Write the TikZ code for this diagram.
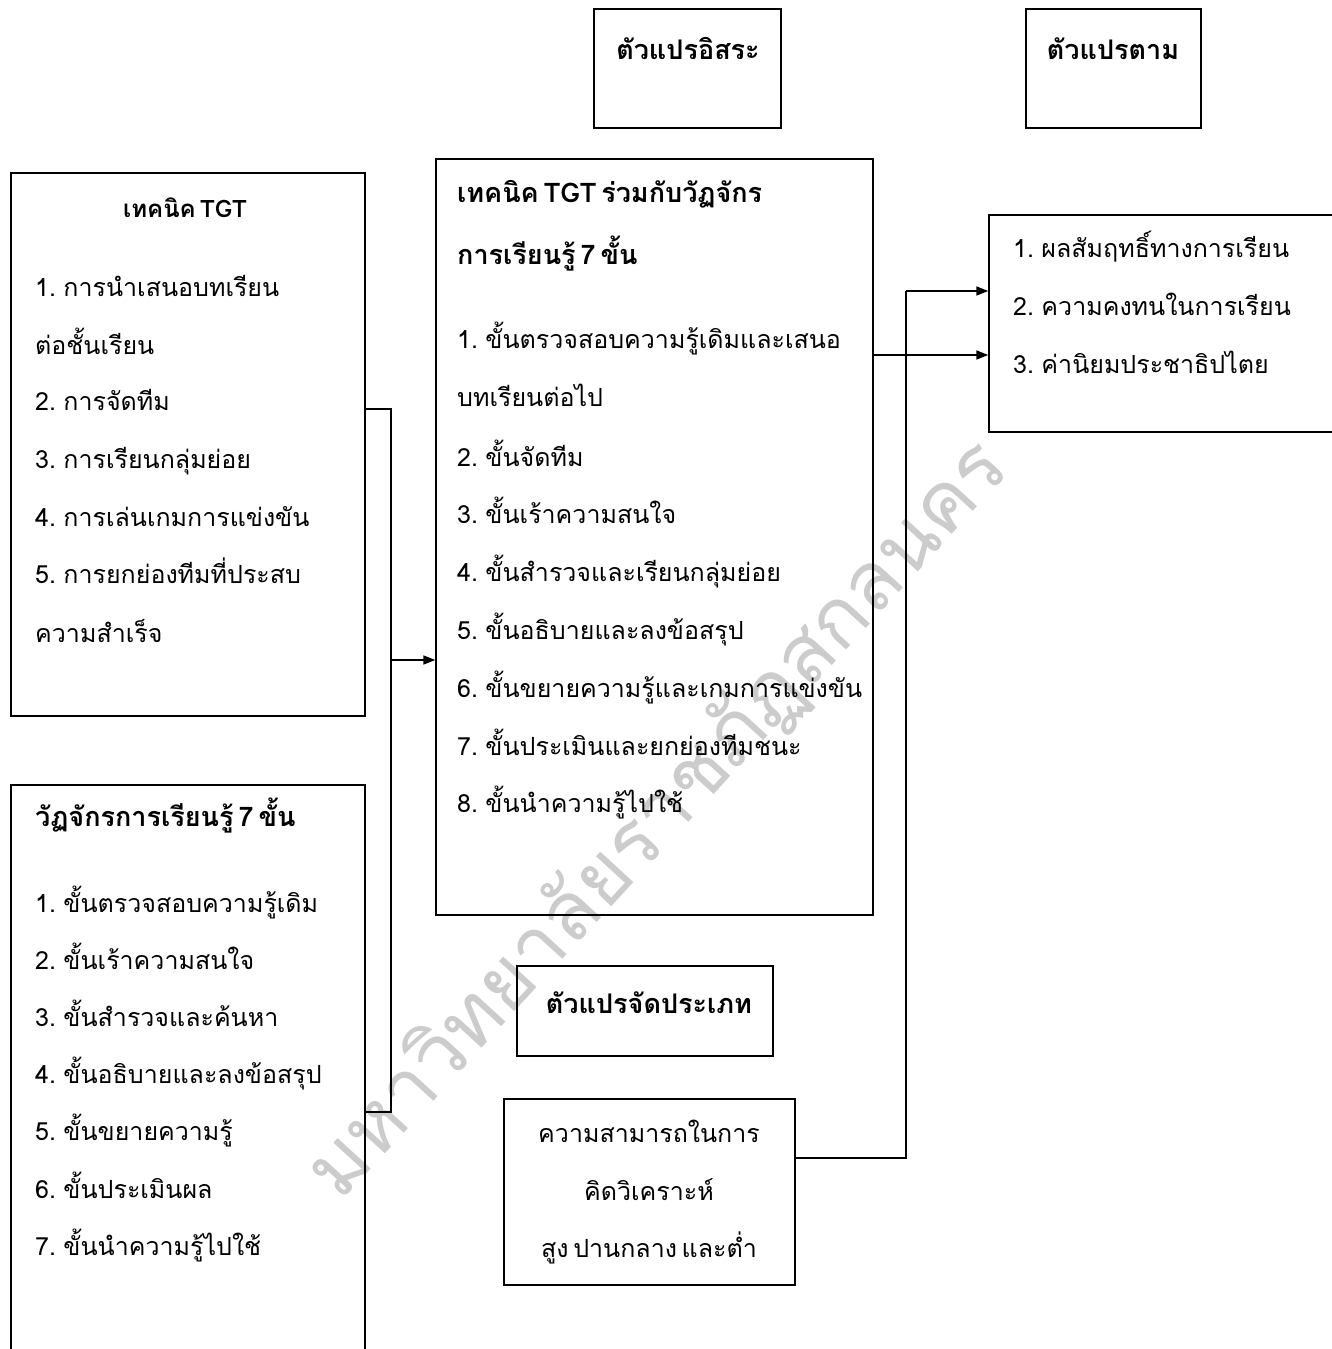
\documentclass[tikz,border=0pt]{standalone}
\usepackage{fontspec}
\setmainfont[Script=Thai, WordSpace=0.55]{Loma}
\usetikzlibrary{arrows.meta}
\begin{document}
\begin{tikzpicture}[x=1pt,y=-1pt,
  box/.style={draw, line width=1.4pt, inner sep=0pt},
  tx/.style={anchor=base west, inner sep=0pt, font=\fontsize{25}{28}\selectfont},
  txc/.style={anchor=base, inner sep=0pt, font=\fontsize{25}{28}\selectfont},
  hd/.style={anchor=base west, inner sep=0pt, font=\fontsize{27}{30}\selectfont\bfseries},
  hdc/.style={anchor=base, inner sep=0pt, font=\fontsize{27}{30}\selectfont\bfseries},
  con/.style={line width=1.6pt},
  arr/.style={line width=1.6pt, -{Triangle[length=12pt,width=9pt]}},
  wmk/.style={rotate=47.5, text=black!20, inner sep=0pt, font=\fontsize{81}{84}\selectfont}]
\useasboundingbox (0,0) rectangle (1331,1349);
\fill[white] (0,0) rectangle (1331,1349);
% watermark
\node[wmk] (wm) at (658,820) {มหาวิทยาลัยราชภัฏสกลนคร};
% boxes
\node[box, minimum width=187pt, minimum height=119pt] (A) at (687.5,68.5) {};
\node[box, minimum width=175pt, minimum height=119pt] (B) at (1113.5,68.5) {};
\node[box, minimum width=354pt, minimum height=543pt] (L1) at (188,444.5) {};
\node[box, minimum width=354pt, minimum height=600pt] (L2) at (188,1085) {};
\node[box, minimum width=437pt, minimum height=756pt] (M) at (654.5,537) {};
\node[box, minimum width=360pt, minimum height=217pt] (R) at (1169,323.5) {};
\node[box, minimum width=256pt, minimum height=90pt] (C) at (645,1011) {};
\node[box, minimum width=291pt, minimum height=186pt] (D) at (649.5,1192) {};
% texts
\node[hdc] (tA) at (688,59) {ตัวแปรอิสระ};
\node[hdc] (tB) at (1113,59) {ตัวแปรตาม};
\node[hdc, font=\fontsize{24}{28}\selectfont\bfseries] (tL1) at (185,217) {เทคนิค TGT};
\node[tx] (l11) at (35,296) {1. การนำเสนอบทเรียน};
\node[tx] (l12) at (35,354) {ต่อชั้นเรียน};
\node[tx] (l13) at (35,410) {2. การจัดทีม};
\node[tx] (l14) at (35,468) {3. การเรียนกลุ่มย่อย};
\node[tx] (l15) at (35,526) {4. การเล่นเกมการแข่งขัน};
\node[tx] (l16) at (35,583) {5. การยกย่องทีมที่ประสบ};
\node[tx] (l17) at (35,642) {ความสำเร็จ};
\node[hd] (tL2) at (35,826) {วัฏจักรการเรียนรู้ 7 ขั้น};
\node[tx] (l21) at (35,912) {1. ขั้นตรวจสอบความรู้เดิม};
\node[tx] (l22) at (35,969) {2. ขั้นเร้าความสนใจ};
\node[tx] (l23) at (35,1026) {3. ขั้นสำรวจและค้นหา};
\node[tx] (l24) at (35,1083) {4. ขั้นอธิบายและลงข้อสรุป};
\node[tx] (l25) at (35,1140) {5. ขั้นขยายความรู้};
\node[tx] (l26) at (35,1198) {6. ขั้นประเมินผล};
\node[tx] (l27) at (35,1255) {7. ขั้นนำความรู้ไปใช้};
\node[hd] (tM1) at (457,202) {เทคนิค TGT ร่วมกับวัฏจักร};
\node[hd] (tM2) at (457,264) {การเรียนรู้ 7 ขั้น};
\node[tx] (m1) at (457,348) {1. ขั้นตรวจสอบความรู้เดิมและเสนอ};
\node[tx] (m2) at (457,406) {บทเรียนต่อไป};
\node[tx] (m3) at (457,466) {2. ขั้นจัดทีม};
\node[tx] (m4) at (457,523) {3. ขั้นเร้าความสนใจ};
\node[tx] (m5) at (457,581) {4. ขั้นสำรวจและเรียนกลุ่มย่อย};
\node[tx] (m6) at (457,639) {5. ขั้นอธิบายและลงข้อสรุป};
\node[tx] (m7) at (457,697) {6. ขั้นขยายความรู้และเกมการแข่งขัน};
\node[tx] (m8) at (457,755) {7. ขั้นประเมินและยกย่องทีมชนะ};
\node[tx] (m9) at (457,812) {8. ขั้นนำความรู้ไปใช้};
\node[tx] (r1) at (1013,257) {1. ผลสัมฤทธิ์ทางการเรียน};
\node[tx] (r2) at (1013,315) {2. ความคงทนในการเรียน};
\node[tx] (r3) at (1013,373) {3. ค่านิยมประชาธิปไตย};
\node[hdc] (tC) at (649,1013) {ตัวแปรจัดประเภท};
\node[txc] (d1) at (649,1142) {ความสามารถในการ};
\node[txc] (d2) at (649,1200) {คิดวิเคราะห์};
\node[txc] (d3) at (649,1257) {สูง ปานกลาง และต่ำ};
% connectors
\coordinate (j1) at (391,409);
\coordinate (j2) at (391,1112);
\coordinate (j3) at (391,660);
\coordinate (k1) at (906,291);
\coordinate (k2) at (906,1158);
\coordinate (k3) at (930,355);
\draw[con] (L1.east |- j1) -- (j1) -- (j2) -- (L2.east |- j2);
\draw[arr] (j3) -- (M.west |- j3);
\draw[arr] (M.east |- k3) -- (R.west |- k3);
\draw[con] (D.east |- k2) -- (k2) -- (k1);
\draw[arr] (k1) -- (R.west |- k1);
\end{tikzpicture}
\end{document}
